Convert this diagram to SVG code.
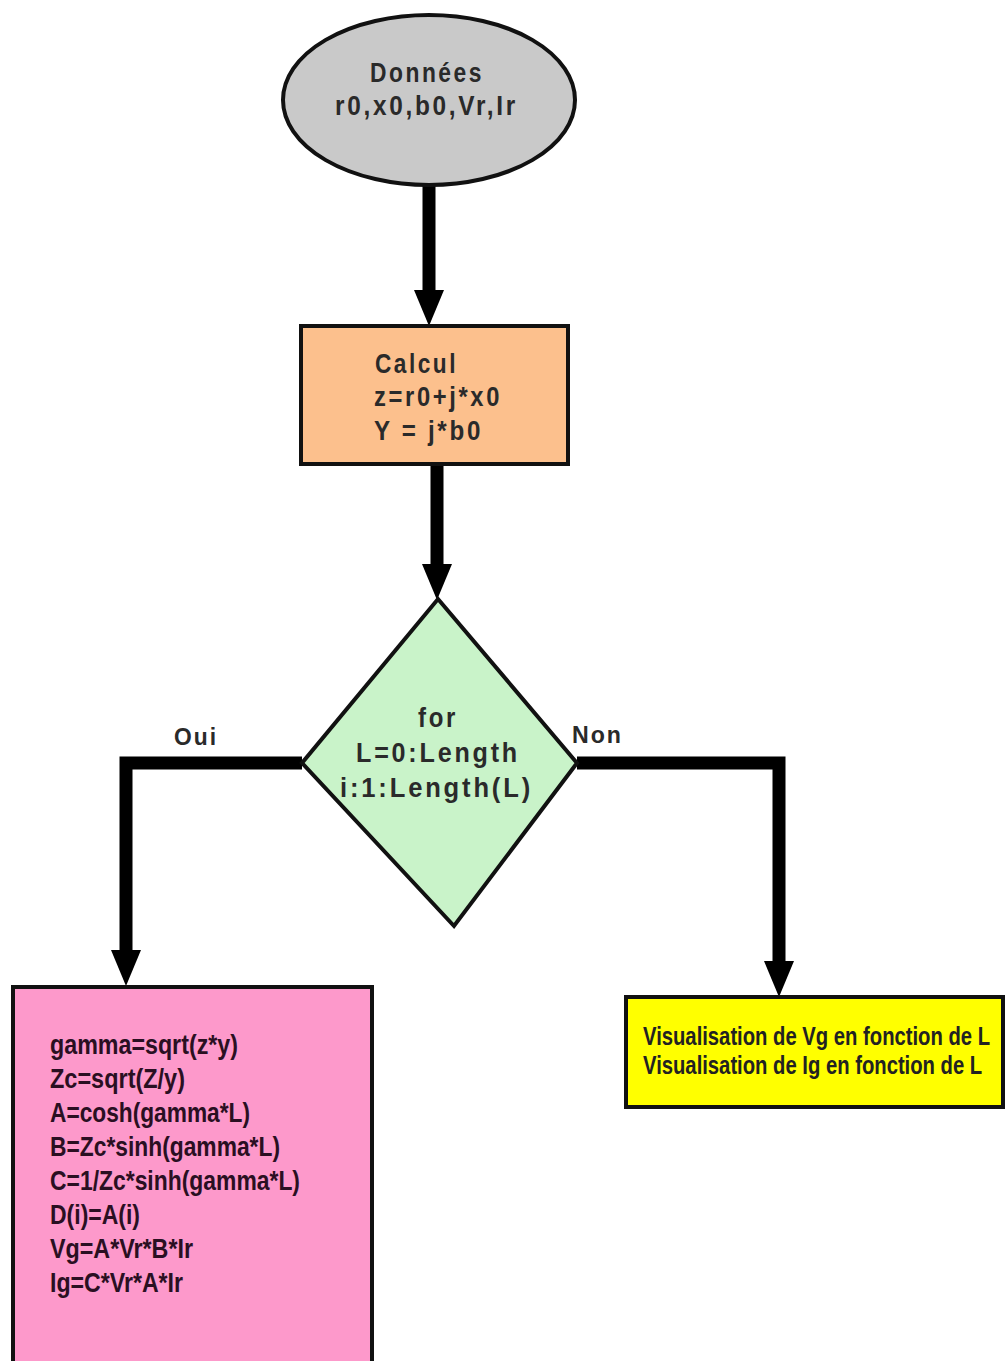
<svg xmlns="http://www.w3.org/2000/svg" width="1006" height="1361" viewBox="0 0 1006 1361">
<defs>
<marker id="ah" markerUnits="userSpaceOnUse" markerWidth="40" markerHeight="34" refX="0" refY="16" orient="auto" viewBox="0 0 40 32" overflow="visible">
<path d="M0,1 L36,16 L0,31 z" fill="#000"/>
</marker>
<style>
.shape{stroke:#111;stroke-width:4}
.t{font-family:"Liberation Sans Narrow","Liberation Sans",Arial,sans-serif;font-weight:bold;fill:#2a2a2a}
.sp{font-size:27px;letter-spacing:3px}
.cd{font-size:27px;fill:#2a0f22}
.yl{font-size:25px;fill:#222}
.lbl{font-size:23px;letter-spacing:2px}
.conn{fill:none;stroke:#000;stroke-width:13;stroke-linejoin:miter}
</style>
</defs>
<rect width="1006" height="1361" fill="#fff"/>
<g id="connectors">
<path class="conn" d="M429,185 V290" marker-end="url(#ah)"/>
<path class="conn" d="M437,464 V564" marker-end="url(#ah)"/>
<path class="conn" d="M302,763 H126 V950" marker-end="url(#ah)"/>
<path class="conn" d="M577,763 H779 V961" marker-end="url(#ah)"/>
<text class="t lbl" x="174" y="745" textLength="44" lengthAdjust="spacingAndGlyphs">Oui</text>
<text class="t lbl" x="572" y="743" textLength="51" lengthAdjust="spacingAndGlyphs">Non</text>
</g>
<g id="donnees">
<ellipse class="shape" cx="429" cy="100" rx="146" ry="85" fill="#C9C9C9"/>
<text class="t sp" x="370" y="82" textLength="114" lengthAdjust="spacingAndGlyphs">Données</text>
<text class="t sp" x="335" y="115" textLength="183" lengthAdjust="spacingAndGlyphs">r0,x0,b0,Vr,Ir</text>
</g>
<g id="calcul">
<rect class="shape" x="301" y="326" width="267" height="138" fill="#FCC08D"/>
<text class="t sp" x="375" y="373" textLength="83" lengthAdjust="spacingAndGlyphs">Calcul</text>
<text class="t sp" x="374" y="406" textLength="128" lengthAdjust="spacingAndGlyphs">z=r0+j*x0</text>
<text class="t sp" x="374" y="440" textLength="109" lengthAdjust="spacingAndGlyphs">Y = j*b0</text>
</g>
<g id="for">
<polygon class="shape" points="438,599 577,763 454,926 302,763" fill="#C9F3C9"/>
<text class="t sp" x="418" y="727" textLength="40" lengthAdjust="spacingAndGlyphs">for</text>
<text class="t sp" x="356" y="762" textLength="164" lengthAdjust="spacingAndGlyphs">L=0:Length</text>
<text class="t sp" x="340" y="797" textLength="193" lengthAdjust="spacingAndGlyphs">i:1:Length(L)</text>
</g>
<g id="calcul-boucle">
<rect class="shape" x="13" y="987" width="359" height="390" fill="#FD99CB"/>
<text class="t cd" x="50" y="1054" textLength="188" lengthAdjust="spacingAndGlyphs">gamma=sqrt(z*y)</text>
<text class="t cd" x="50" y="1088" textLength="135" lengthAdjust="spacingAndGlyphs">Zc=sqrt(Z/y)</text>
<text class="t cd" x="50" y="1122" textLength="200" lengthAdjust="spacingAndGlyphs">A=cosh(gamma*L)</text>
<text class="t cd" x="50" y="1156" textLength="230" lengthAdjust="spacingAndGlyphs">B=Zc*sinh(gamma*L)</text>
<text class="t cd" x="50" y="1190" textLength="250" lengthAdjust="spacingAndGlyphs">C=1/Zc*sinh(gamma*L)</text>
<text class="t cd" x="50" y="1224" textLength="90" lengthAdjust="spacingAndGlyphs">D(i)=A(i)</text>
<text class="t cd" x="50" y="1258" textLength="143" lengthAdjust="spacingAndGlyphs">Vg=A*Vr*B*Ir</text>
<text class="t cd" x="50" y="1292" textLength="133" lengthAdjust="spacingAndGlyphs">Ig=C*Vr*A*Ir</text>
</g>
<g id="visualisation">
<rect class="shape" x="626" y="997" width="377" height="110" fill="#FFFF00"/>
<text class="t yl" transform="translate(643,1045) scale(0.81,1)" x="0" y="0">Visualisation de Vg en fonction de L</text>
<text class="t yl" transform="translate(643,1074) scale(0.81,1)" x="0" y="0">Visualisation de Ig en fonction de L</text>
</g>
</svg>
